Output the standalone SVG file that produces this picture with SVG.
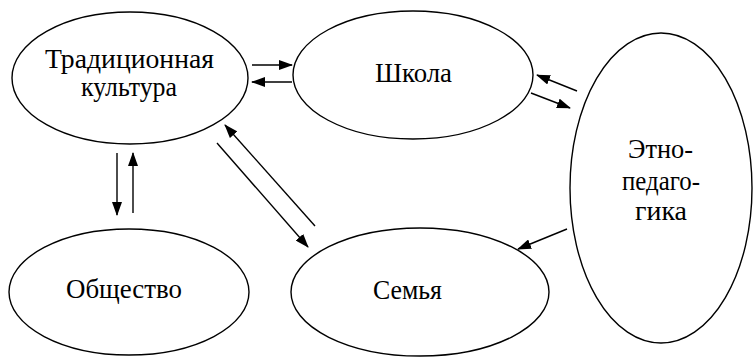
<svg xmlns="http://www.w3.org/2000/svg" width="753" height="358" viewBox="0 0 753 358">
<defs>
<marker id="a" viewBox="0 0 14 10" refX="13" refY="5" markerWidth="14" markerHeight="10" markerUnits="userSpaceOnUse" orient="auto">
<path d="M0,0 L14,5 L0,10 z" fill="#000"/>
</marker>
</defs>
<rect width="753" height="358" fill="#fff"/>
<g fill="#fff" stroke="#000" stroke-width="1.4">
<g id="tradition">
<ellipse cx="130" cy="78" rx="118" ry="66"/>
<text style="font-family:'Liberation Serif','Times New Roman',serif" font-size="28" fill="#000" stroke="none" text-anchor="middle" x="129.5" y="68" textLength="169" lengthAdjust="spacingAndGlyphs">Традиционная</text>
<text style="font-family:'Liberation Serif','Times New Roman',serif" font-size="28" fill="#000" stroke="none" text-anchor="middle" x="129" y="96" textLength="96" lengthAdjust="spacingAndGlyphs">культура</text>
</g>
<g id="school">
<ellipse cx="413" cy="75" rx="120" ry="64"/>
<text style="font-family:'Liberation Serif','Times New Roman',serif" font-size="28" fill="#000" stroke="none" text-anchor="middle" x="413.5" y="82" textLength="77" lengthAdjust="spacingAndGlyphs">Школа</text>
</g>
<g id="ethno">
<ellipse cx="661" cy="188" rx="91" ry="155"/>
<text style="font-family:'Liberation Serif','Times New Roman',serif" font-size="28" fill="#000" stroke="none" text-anchor="middle" x="660.5" y="158" textLength="65" lengthAdjust="spacingAndGlyphs">Этно-</text>
<text style="font-family:'Liberation Serif','Times New Roman',serif" font-size="28" fill="#000" stroke="none" text-anchor="middle" x="661" y="190" textLength="78" lengthAdjust="spacingAndGlyphs">педаго-</text>
<text style="font-family:'Liberation Serif','Times New Roman',serif" font-size="28" fill="#000" stroke="none" text-anchor="middle" x="661" y="220" textLength="52" lengthAdjust="spacingAndGlyphs">гика</text>
</g>
<g id="society">
<ellipse cx="129" cy="292" rx="120" ry="63"/>
<text style="font-family:'Liberation Serif','Times New Roman',serif" font-size="28" fill="#000" stroke="none" text-anchor="middle" x="124" y="298" textLength="116" lengthAdjust="spacingAndGlyphs">Общество</text>
</g>
<g id="family">
<ellipse cx="420" cy="292" rx="129" ry="64"/>
<text style="font-family:'Liberation Serif','Times New Roman',serif" font-size="28" fill="#000" stroke="none" text-anchor="middle" x="407.5" y="299" textLength="69" lengthAdjust="spacingAndGlyphs">Семья</text>
</g>
</g>
<g id="connectors" stroke="#000" stroke-width="1.4">
<line x1="252" y1="65" x2="292" y2="65" marker-end="url(#a)"/>
<line x1="292" y1="82" x2="252" y2="82" marker-end="url(#a)"/>
<line x1="577" y1="91" x2="537" y2="75" marker-end="url(#a)"/>
<line x1="531" y1="93" x2="570" y2="108" marker-end="url(#a)"/>
<line x1="117" y1="153" x2="117" y2="215" marker-end="url(#a)"/>
<line x1="133" y1="213" x2="133" y2="153" marker-end="url(#a)"/>
<line x1="315" y1="226" x2="225" y2="125" marker-end="url(#a)"/>
<line x1="217" y1="143" x2="308" y2="247" marker-end="url(#a)"/>
<line x1="567" y1="229" x2="518" y2="249" marker-end="url(#a)"/>
</g>
</svg>
